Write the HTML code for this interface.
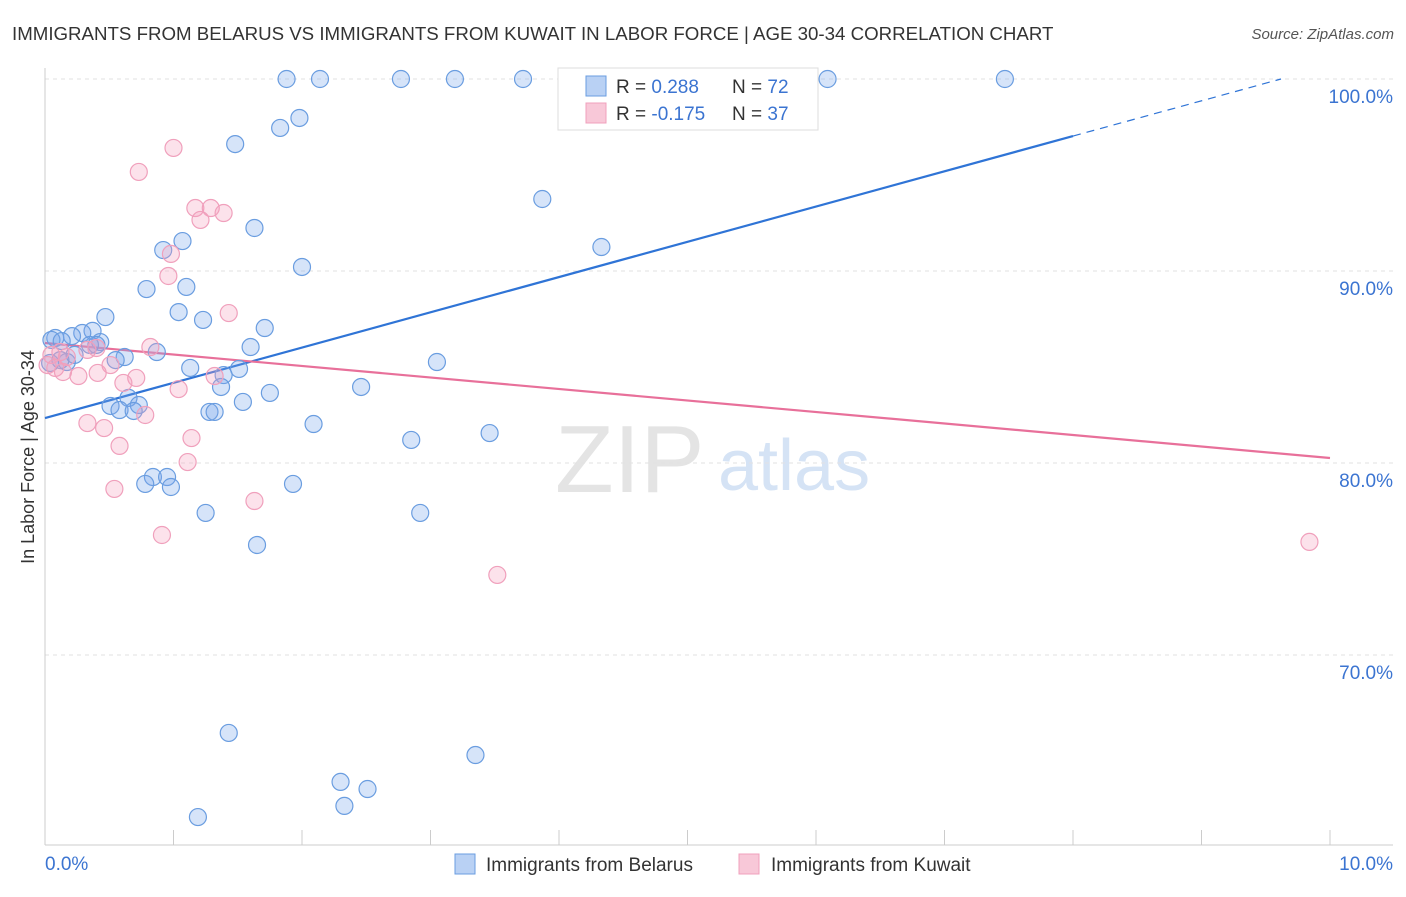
<!DOCTYPE html>
<html><head><meta charset="utf-8"><style>
body{margin:0;background:#fff;font-family:"Liberation Sans",sans-serif;}
svg text{font-family:"Liberation Sans",sans-serif;}
</style></head><body>
<svg id="c" width="1406" height="892" xmlns="http://www.w3.org/2000/svg">
<text x="12" y="40" font-size="18.7" fill="#333">IMMIGRANTS FROM BELARUS VS IMMIGRANTS FROM KUWAIT IN LABOR FORCE | AGE 30-34 CORRELATION CHART</text>
<text x="1394" y="39" font-size="15" fill="#555" font-style="italic" text-anchor="end">Source: ZipAtlas.com</text>
<text transform="translate(34,457) rotate(-90)" font-size="18" fill="#333" text-anchor="middle">In Labor Force | Age 30-34</text>
<g><text x="555" y="492" font-size="96" fill="#e4e4e4" font-family="Liberation Serif">ZIP</text><text x="718" y="490" font-size="72" fill="#d5e3f5">atlas</text></g>
<g id="grid"></g><g id="axes"></g><g id="lines"></g><g id="pts"></g>
<g>
<rect x="558" y="68" width="260" height="62" fill="#fff" stroke="#ddd"/>
<rect x="586" y="76" width="20" height="20" fill="#b9d1f4" stroke="#6a9de0"/>
<text x="616" y="93" font-size="19" fill="#333">R = <tspan fill="#3b74d1"> 0.288</tspan></text>
<text x="732" y="93" font-size="19" fill="#333">N = <tspan fill="#3b74d1">72</tspan></text>
<rect x="586" y="103" width="20" height="20" fill="#f8c8d8" stroke="#f0a0bc"/>
<text x="616" y="120" font-size="19" fill="#333">R = <tspan fill="#3b74d1">-0.175</tspan></text>
<text x="732" y="120" font-size="19" fill="#333">N = <tspan fill="#3b74d1">37</tspan></text>
</g>
<g>
<rect x="455" y="854" width="20" height="20" fill="#b9d1f4" stroke="#6a9de0"/>
<text x="486" y="871" font-size="19" fill="#333">Immigrants from Belarus</text>
<rect x="739" y="854" width="20" height="20" fill="#f8c8d8" stroke="#f0a0bc"/>
<text x="771" y="871" font-size="19" fill="#333">Immigrants from Kuwait</text>
</g>
</svg>
<script>
const blueX=[1.88,2.14,2.77,3.19,3.72,4.16,6.09,7.47,1.98,1.83,1.48,3.87,4.33,1.63,1.07,0.92,2.00,0.79,1.10,1.04,1.23,0.47,1.71,0.37,0.29,0.21,0.08,0.05,0.13,0.43,0.40,1.60,0.87,0.62,0.55,0.17,3.05,1.13,1.51,1.39,1.37,2.46,1.75,0.65,1.54,0.51,0.73,0.58,0.69,1.28,1.32,2.09,3.46,2.85,0.84,0.95,0.78,0.98,1.93,2.92,1.25,1.65,1.43,3.35,2.30,2.51,2.33,1.19,0.04,0.12,0.23,0.35];
const blueY=[100,100,100,100,100,100,100,100,97.97,97.45,96.61,93.75,91.25,92.24,91.56,91.09,90.21,89.06,89.17,87.86,87.45,87.60,87.03,86.88,86.77,86.61,86.51,86.41,86.35,86.30,86.15,86.04,85.78,85.52,85.36,85.26,85.26,84.95,84.90,84.58,83.96,83.96,83.65,83.39,83.18,82.97,83.02,82.76,82.71,82.66,82.66,82.03,81.56,81.20,79.27,79.27,78.91,78.75,78.91,77.40,77.40,75.73,65.94,64.79,63.39,63.02,62.14,61.56,85.21,85.36,85.63,86.15];
const pinkX=[1.00,0.73,1.17,1.29,1.39,1.21,0.98,0.96,1.43,0.82,0.40,0.33,0.12,0.05,0.17,0.02,0.51,0.14,0.26,0.41,0.71,0.61,1.04,1.32,0.78,0.33,0.46,1.14,0.58,1.11,0.54,1.63,0.91,3.52,9.84,4.15,0.08];
const pinkY=[96.41,95.16,93.28,93.28,93.02,92.66,90.89,89.74,87.81,86.04,85.99,85.89,85.78,85.63,85.52,85.10,85.10,84.74,84.53,84.69,84.43,84.17,83.85,84.53,82.50,82.08,81.82,81.30,80.89,80.05,78.65,78.02,76.25,74.17,75.89,98.13,84.95];
const blueTrend=[82.34,1.836];
const pinkTrend=[86.25,-0.599];
const yTicks=[100,90,80,70];
const yTickLabels=["100.0%","90.0%","80.0%","70.0%"];
const xTicks=[0,1,2,3,4,5,6,7,8,9,10];
const NS="http://www.w3.org/2000/svg";
const sx=v=>45+v*128.5, sy=v=>79+(100-v)*19.2;
function mk(p,t,a){const e=document.createElementNS(NS,t);for(const k in a)e.setAttribute(k,a[k]);document.getElementById(p).appendChild(e);return e;}
yTicks.forEach((t,i)=>{
 const l=mk('grid','line',{x1:45,x2:1393,y1:sy(t),y2:sy(t),stroke:'#e2e2e2','stroke-dasharray':'4,4'});
 
 
 const tx=mk('grid','text',{x:1393,y:sy(t)+24,'font-size':19,fill:'#3b74d1','text-anchor':'end'});
 tx.textContent=yTickLabels[i];
 
 
});
const ax=mk('axes','line',{x1:45,x2:45,y1:68,y2:845,stroke:'#ccc'});


const bx=mk('axes','line',{x1:45,x2:1393,y1:845,y2:845,stroke:'#ccc'});


xTicks.forEach(t=>{const l=mk('axes','line',{x1:sx(t),x2:sx(t),y1:830,y2:845,stroke:'#ccc'});
 
 });
[[0,'0.0%','start',45],[10,'10.0%','end',1393]].forEach(d=>{const t=mk('axes','text',{x:d[3],y:870,'font-size':19,fill:'#3b74d1','text-anchor':d[2]});t.textContent=d[1];
 
 });
function pts(X,Y,fill,stroke,name){X.forEach((x,i)=>{const c=mk('pts','circle',{cx:sx(x),cy:sy(Y[i]),r:8.5,fill:fill,stroke:stroke,'stroke-width':1.2});
 
 });}
pts(blueX,blueY,'rgba(120,165,235,0.3)','#6a9de0','belarus-point');
pts(pinkX,pinkY,'rgba(245,160,190,0.3)','#f0a0bc','kuwait-point');
const f=(tr,x)=>tr[0]+tr[1]*x;
const b1=mk('lines','line',{x1:sx(0),y1:sy(f(blueTrend,0)),x2:sx(8),y2:sy(f(blueTrend,8)),stroke:'#2f74d6','stroke-width':2.2});


const xe=(100-blueTrend[0])/blueTrend[1];
const b2=mk('lines','line',{x1:sx(8),y1:sy(f(blueTrend,8)),x2:sx(xe),y2:sy(100),stroke:'#2f74d6','stroke-width':1.2,'stroke-dasharray':'8,6'});


const p1=mk('lines','line',{x1:sx(0),y1:sy(f(pinkTrend,0)),x2:sx(10),y2:sy(f(pinkTrend,10)),stroke:'#e8709a','stroke-width':2.2});


</script>
</body></html>
